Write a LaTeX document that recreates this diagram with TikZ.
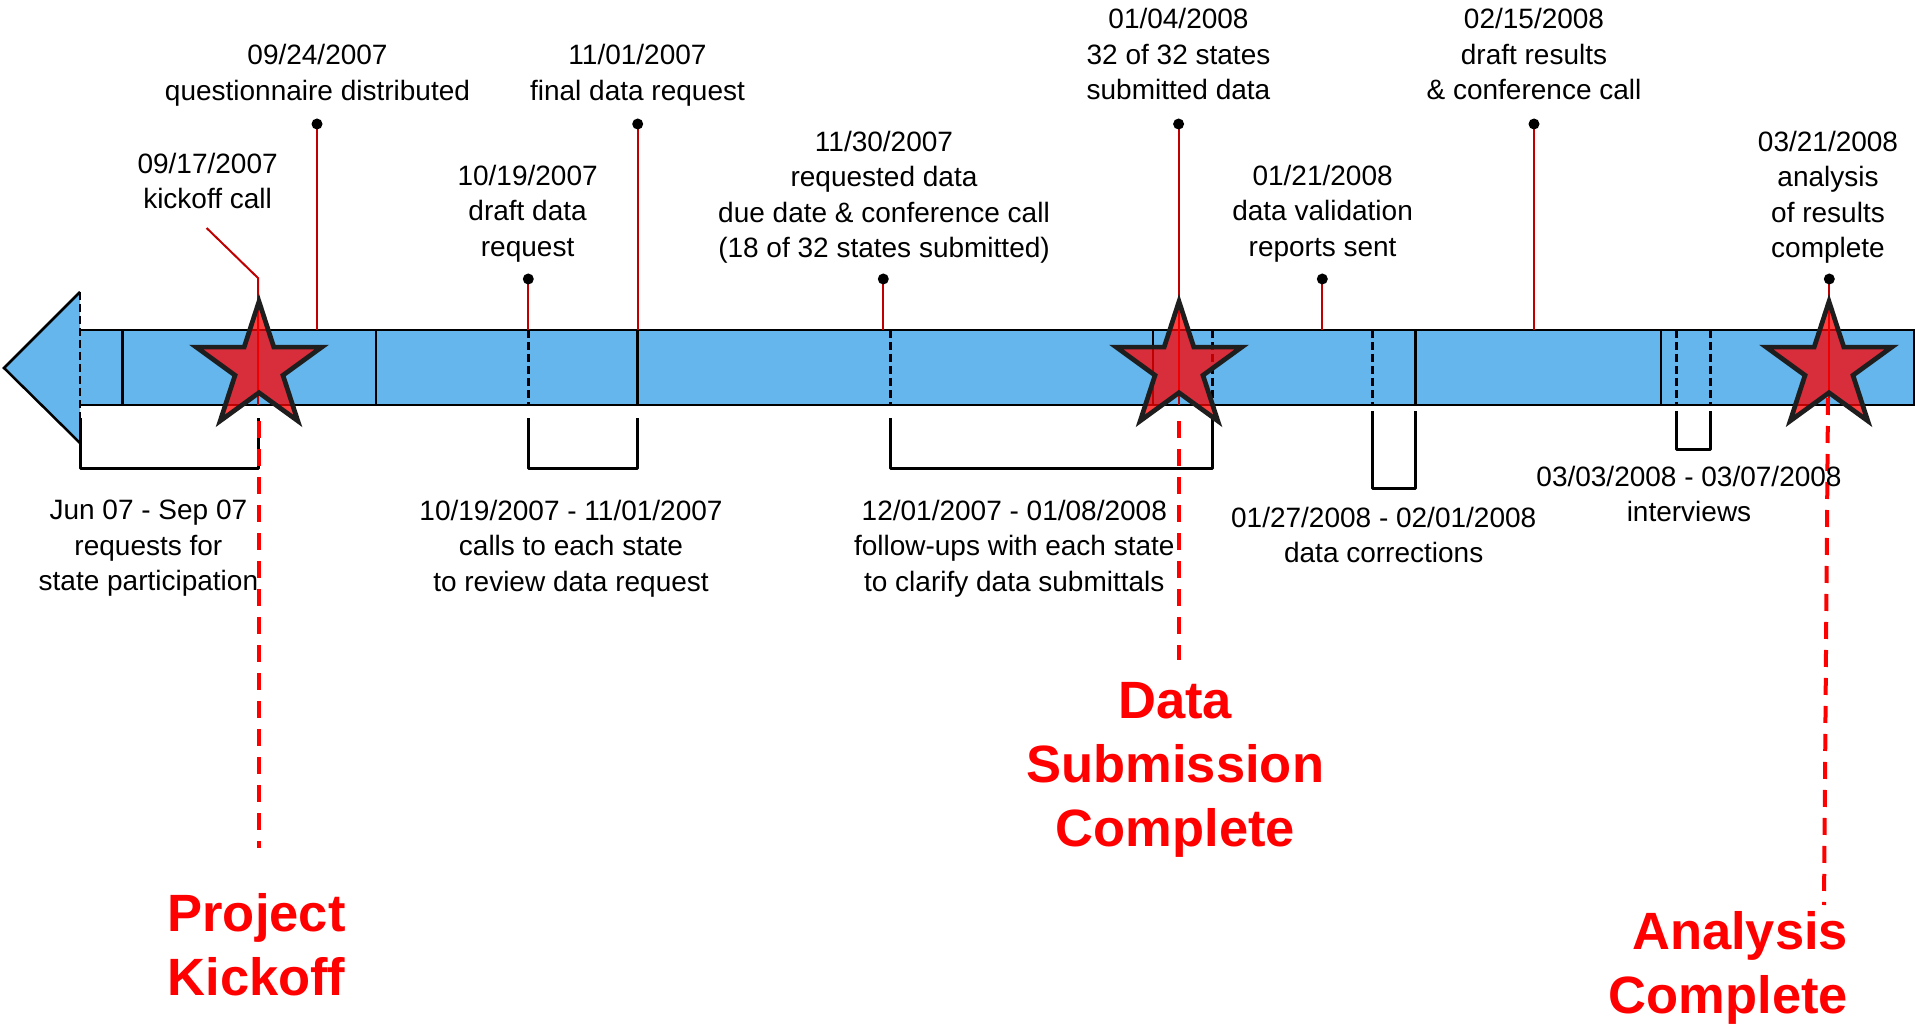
\documentclass[tikz,border=0pt]{standalone}
\usepackage{fontspec}
\setmainfont{Liberation Sans}
\usetikzlibrary{calc}
\definecolor{barblue}{RGB}{100,182,236}
\definecolor{lblred}{RGB}{192,0,0}
\definecolor{starline}{RGB}{30,30,30}
\tikzset{
  lbl/.style={font=\fontsize{28}{35.5}\selectfont, align=center, inner sep=0pt, anchor=north},
  biglbl/.style={font=\fontsize{52.5}{64}\selectfont\bfseries, text=red, align=center, inner sep=0pt, anchor=north},
  tickline/.style={draw=lblred, line width=2pt},
  divsolid/.style={line width=2.5pt},
  divdash/.style={line width=2.5pt, dash pattern=on 8pt off 4pt},
  bracket/.style={line width=3pt, line join=round},
  milestone/.style={draw=red, line width=4pt, dash pattern=on 17pt off 11pt},
  starsty/.style={fill=red, fill opacity=0.75, draw=starline, line width=4.7pt, miter limit=10},
}
\newcommand{\milestar}[2]{\begin{scope}[shift={(#1,#2)}]
\draw[starsty] (-90:66) -- (-54:25.2) -- (-18:66) -- (18:25.2) -- (54:66) -- (90:25.2) -- (126:66) -- (162:25.2) -- (198:66) -- (234:25.2) -- cycle;
\end{scope}}
\begin{document}
\begin{tikzpicture}[x=1pt,y=-1pt]
\useasboundingbox (0,0) rectangle (1915,1024);

% bar with arrow head
\fill[barblue] (80,292) -- (4,368) -- (80,443) -- (80,405) -- (1915,405) -- (1915,330) -- (80,330) -- cycle;
\draw[line width=2.5pt] (80,292) -- (4,368) -- (80,443);
\draw[line width=2.5pt] (80,330) -- (1914,330) -- (1914,405) -- (80,405);
\foreach \x in {122.7,376,637.7,1153,1415.3,1661} \draw[divsolid] (\x,330) -- (\x,405);
\foreach \x in {528.3,890.7,1212.3,1372.7,1676.7,1710.7} \draw[divdash] (\x,330) -- (\x,405);
\draw[divdash] (80,292) -- (80,418);

% event connectors
\coordinate (d1) at (317,124);    \coordinate (b1) at (317,330);
\coordinate (d3) at (528.3,279);  \coordinate (b3) at (528.3,330);
\coordinate (d4) at (637.7,124);  \coordinate (b4) at (637.7,330);
\coordinate (d5) at (883.3,279);  \coordinate (b5) at (883.3,330);
\coordinate (d6) at (1178.6,124); \coordinate (b6) at (1178.6,405);
\coordinate (d7) at (1322.3,279); \coordinate (b7) at (1322.3,330);
\coordinate (d8) at (1534,124);   \coordinate (b8) at (1534,330);
\coordinate (d9) at (1829.3,279); \coordinate (b9) at (1829.3,405);
\coordinate (k0) at (206.6,228);  \coordinate (k1) at (258,278); \coordinate (k2) at (258,405);
\foreach \n in {1,3,4,5,6,7,8,9} \draw[tickline] (d\n) -- (b\n);
\draw[tickline] (k0) -- (k1) -- (k2);

% brackets
\draw[bracket] (80,418) -- (80,468) -- (258,468) -- (258,418);
\draw[bracket] (528.3,418) -- (528.3,468) -- (637.7,468) -- (637.7,418);
\draw[bracket] (890.7,418) -- (890.7,468) -- (1212.3,468) -- (1212.3,418);
\draw[bracket] (1372.7,411) -- (1372.7,488) -- (1415.3,488) -- (1415.3,411);
\draw[bracket] (1676.7,411) -- (1676.7,449) -- (1710.7,449) -- (1710.7,411);

% milestone dashed lines
\coordinate (ms1a) at (259,421);  \coordinate (ms1b) at (259,848);
\coordinate (ms2a) at (1179,421); \coordinate (ms2b) at (1179,660);
\coordinate (ms3a) at (1828,398); \coordinate (ms3b) at (1824,905);
\draw[milestone] (ms1a) -- (ms1b);
\draw[milestone] (ms2a) -- (ms2b);
\draw[milestone] (ms3a) -- (ms3b);

% stars
\milestar{259}{367.5}
\milestar{1179}{367.5}
\milestar{1829}{367.5}

% dots
\foreach \n in {1,3,4,5,6,7,8,9} \fill (d\n) circle (5.5);

% labels above
\node[lbl] (t1) at (317.5,44.5) {09/24/2007\\questionnaire distributed};
\node[lbl] (t2) at (207.6,153) {09/17/2007\\kickoff call};
\node[lbl] (t3) at (527.6,165) {10/19/2007\\draft data\\request};
\node[lbl] (t4) at (637.5,44.5) {11/01/2007\\final data request};
\node[lbl] (t5) at (884,131) {11/30/2007\\requested data\\due date \& conference call\\(18 of 32 states submitted)};
\node[lbl] (t6) at (1178.5,8.5) {01/04/2008\\32 of 32 states\\submitted data};
\node[lbl] (t7) at (1322.6,165) {01/21/2008\\data validation\\reports sent};
\node[lbl] (t8) at (1534,8.5) {02/15/2008\\draft results\\\& conference call};
\node[lbl] (t9) at (1828,131) {03/21/2008\\analysis\\of results\\complete};

% labels below
\node[lbl] (t10) at (148.4,500) {Jun 07 - Sep 07\\requests for\\state participation};
\node[lbl] (t11) at (571,500) {10/19/2007 - 11/01/2007\\calls to each state\\to review data request};
\node[lbl] (t12) at (1014.3,500) {12/01/2007 - 01/08/2008\\follow-ups with each state\\to clarify data submittals};
\node[lbl] (t13) at (1383.7,507) {01/27/2008 - 02/01/2008\\data corrections};
\node[lbl] (t14) at (1689,466) {03/03/2008 - 03/07/2008\\interviews};

% milestone labels
\node[biglbl] (m1) at (256.5,893) {Project\\Kickoff};
\node[biglbl] (m2) at (1175.3,681.7) {Data\\Submission\\Complete};
\node[biglbl, align=right, anchor=north east] (m3) at (1848.3,911.7) {Analysis\\Complete};
\end{tikzpicture}
\end{document}
